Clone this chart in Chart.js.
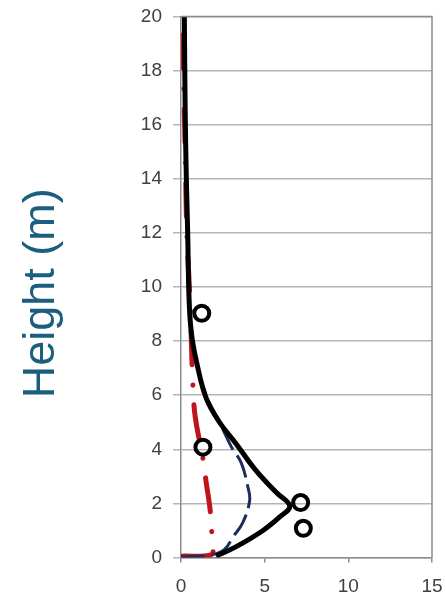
<!DOCTYPE html>
<html>
<head>
<meta charset="utf-8">
<script src="https://cdn.jsdelivr.net/npm/chart.js@4/dist/chart.umd.min.js"></script>
<style>
  body { margin: 0; background: #fff; }
</style>
</head>
<body>
<canvas id="profileChart" width="446" height="596"></canvas>
<script>
// values (x value, height in m)
const blackX = [2.1, 3.3, 4.9, 5.9, 6.5, 5.7, 4.5, 3.3, 2.3, 1.5, 0.94, 0.62, 0.48, 0.4, 0.32, 0.25, 0.2];
const blackH = [0.05, 0.4, 1.0, 1.5, 1.9, 2.4, 3.2, 4.2, 5.0, 5.9, 7.2, 8.3, 9.6, 12, 14, 16.5, 20];

const blueX = [0, 1.8, 2.6, 3.1, 3.7, 4.1, 4.0, 3.6, 3.0, 2.3, 1.5, 0.95, 0.62, 0.47, 0.35, 0.27, 0.2];
const blueH = [0.02, 0.1, 0.3, 0.75, 1.3, 2.1, 2.6, 3.5, 4.1, 5.0, 6.0, 7.2, 8.4, 10, 13, 16, 20];

const redX = [0, 1.8, 1.85, 1.75, 1.5, 1.3, 0.85, 0.7, 0.62, 0.5, 0.35, 0.25, 0.15, 0.1];
const redH = [0.05, 0.1, 0.6, 1.7, 2.8, 3.7, 5.2, 6.5, 8.0, 10, 12, 15, 18, 20];

const obsX = [1.24, 1.31, 7.15, 7.31];
const obsH = [9.03, 4.08, 2.03, 1.08];

const xTicks = [0, 5, 10, 15];
const yTitle = 'Height (m) ';

function toPoints(xs, hs) {
    return xs.map(function(v, i) { return { x: v, y: hs[i] }; });
}

const frame = {
    id: 'frame',
    afterDatasetsDraw: function(chart) {
        const a = chart.chartArea;
        const ctx = chart.ctx;
        ctx.save();
        ctx.strokeStyle = '#8c8c8c';
        ctx.lineWidth = 1.5;
        ctx.beginPath();
        ctx.moveTo(a.left, a.top);
        ctx.lineTo(a.right, a.top);
        ctx.lineTo(a.right, a.bottom);
        ctx.stroke();
        ctx.restore();
    }
};

new Chart(document.getElementById('profileChart'), {
    type: 'scatter',
    data: {
        datasets: [{
            label: 'Observed',
            data: toPoints(obsX, obsH),
            pointStyle: 'circle',
            pointRadius: 7.5,
            pointBorderWidth: 4,
            borderColor: '#000',
            backgroundColor: 'rgba(0,0,0,0)',
            showLine: false
        }, {
            label: 'Model A',
            data: toPoints(blackX, blackH),
            showLine: true,
            borderColor: '#000',
            borderWidth: 5,
            tension: 0.4,
            pointRadius: 0
        }, {
            label: 'Model B',
            data: toPoints(blueX, blueH),
            showLine: true,
            borderColor: '#1c2e5c',
            borderWidth: 3,
            borderDash: [24, 7],
            tension: 0.4,
            pointRadius: 0
        }, {
            label: 'Model C',
            data: toPoints(redX, redH),
            showLine: true,
            borderColor: '#c0141c',
            borderWidth: 5,
            borderDash: [34, 20, 0.1, 20],
            borderCapStyle: 'round',
            tension: 0.4,
            pointRadius: 0
        }]
    },
    options: {
        responsive: false,
        animation: false,
        layout: {
            padding: { top: 16.5, right: 14, bottom: 0, left: 0 }
        },
        plugins: {
            legend: { display: false },
            tooltip: { enabled: false }
        },
        scales: {
            x: {
                type: 'linear',
                min: 0,
                max: 15,
                afterBuildTicks: function(scale) {
                    scale.ticks = xTicks.map(function(v) { return { value: v }; });
                },
                afterFit: function(scale) {
                    scale.height = 38.5;
                    scale.paddingLeft = 0;
                    scale.paddingRight = 0;
                },
                grid: {
                    drawOnChartArea: false,
                    tickLength: 5,
                    color: '#8c8c8c',
                    lineWidth: 1.5
                },
                border: { color: '#8c8c8c', width: 1.5 },
                ticks: {
                    padding: 12.5,
                    color: '#404040',
                    font: { family: 'Liberation Sans, Arial', size: 19 }
                }
            },
            y: {
                type: 'linear',
                min: 0,
                max: 20,
                afterFit: function(scale) {
                    scale.width = 181;
                    scale.paddingTop = 0;
                    scale.paddingBottom = 0;
                },
                grid: {
                    color: '#b5b5b5',
                    lineWidth: 1.5,
                    tickLength: 8
                },
                border: { color: '#8c8c8c', width: 1.5 },
                ticks: {
                    stepSize: 2,
                    padding: 11,
                    color: '#404040',
                    font: { family: 'Liberation Sans, Arial', size: 19 }
                },
                title: {
                    display: true,
                    text: yTitle,
                    color: '#1b5e7f',
                    padding: { top: 19, bottom: 0 },
                    font: { family: 'Liberation Sans, Arial', size: 45, lineHeight: 1 }
                }
            }
        }
    },
    plugins: [frame]
});
</script>
</body>
</html>
